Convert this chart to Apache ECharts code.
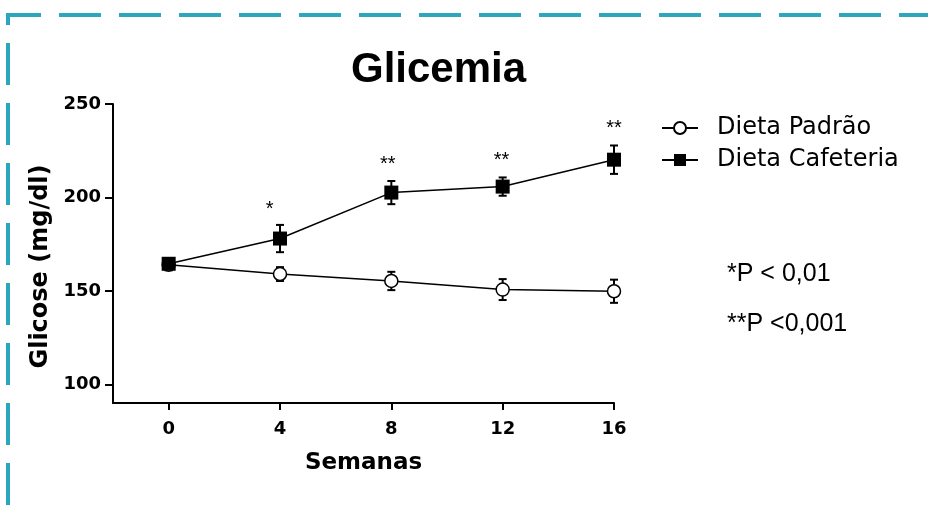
<!DOCTYPE html>
<html><head><meta charset="utf-8">
<script src="https://cdn.jsdelivr.net/npm/echarts@6/dist/echarts.min.js"></script>
<style>html,body{margin:0;padding:0;background:#fff}#c{width:928px;height:508px}</style>
</head><body><div id="c"></div>
<script>
const semanas = [0, 4, 8, 12, 16];
const padraoMedia = [164, 159, 155.3, 150.7, 149.8];
const padraoErro = [3, 3.7, 4.9, 5.6, 6.2];
const cafeMedia = [164.5, 178, 202.6, 205.8, 220.2];
const cafeErro = [3, 7.3, 6.2, 4.9, 7.6];
const estrelasX = [3.63, 7.87, 11.96, 16];
const estrelasY = [196, 220.4, 222.5, 239.5];
const estrelasTexto = ['*', '**', '**', '**'];
const yTicks = [100, 150, 200, 250];
const xTicks = [0, 4, 8, 12, 16];
const nomes = ['Dieta Padrão', 'Dieta Cafeteria'];
const notas = ['*P < 0,01', '**P <0,001'];
const titulo = 'Glicemia';
const nomeX = 'Semanas';
const nomeY = 'Glicose (mg/dl)';

const chart = echarts.init(document.getElementById('c'), null, {renderer: 'canvas'});

function errRender(params, api) {
  const x = api.value(0), lo = api.value(1), hi = api.value(2);
  const pLo = api.coord([x, lo]);
  const pHi = api.coord([x, hi]);
  const w = 4;
  const style = {stroke: '#000', lineWidth: 2};
  return {type: 'group', children: [
    {type: 'line', shape: {x1: pLo[0], y1: pLo[1], x2: pHi[0], y2: pHi[1]}, style: style},
    {type: 'line', shape: {x1: pLo[0] - w, y1: pLo[1], x2: pLo[0] + w, y2: pLo[1]}, style: style},
    {type: 'line', shape: {x1: pHi[0] - w, y1: pHi[1], x2: pHi[0] + w, y2: pHi[1]}, style: style}
  ]};
}

const errPadrao = semanas.map((s, i) => [s, padraoMedia[i] - padraoErro[i], padraoMedia[i] + padraoErro[i]]);
const errCafe = semanas.map((s, i) => [s, cafeMedia[i] - cafeErro[i], cafeMedia[i] + cafeErro[i]]);

const teal = '#2CA6BD';
const tickFont = {fontFamily: 'DejaVu Sans', fontWeight: 'bold', fontSize: 18, color: '#000'};

chart.setOption({
  backgroundColor: '#fff',
  animation: false,
  title: {
    text: titulo, left: 346, top: 44,
    textStyle: {fontFamily: 'Liberation Sans', fontWeight: 'bold', fontSize: 42, color: '#000'}
  },
  legend: {
    data: nomes, orient: 'vertical', left: 661, top: 116, padding: 0,
    itemWidth: 36, itemHeight: 15, itemGap: 8,
    textStyle: {fontFamily: 'DejaVu Sans', fontSize: 24, color: '#000', lineHeight: 24, padding: [0, 0, 0, 14]}
  },
  grid: {left: 113, right: 314, top: 104, bottom: 105, containLabel: false},
  xAxis: {
    type: 'value', min: -2, max: 16,
    name: nomeX, nameLocation: 'middle', nameGap: 49, nameMoveOverlap: false,
    nameTextStyle: {fontFamily: 'DejaVu Sans', fontWeight: 'bold', fontSize: 23, color: '#000'},
    axisLine: {show: true, onZero: false, lineStyle: {color: '#000', width: 2}},
    axisTick: {show: true, length: 7, lineStyle: {color: '#000', width: 2}, customValues: xTicks},
    axisLabel: Object.assign({margin: 17, customValues: xTicks}, tickFont),
    splitLine: {show: false}
  },
  yAxis: {
    type: 'value', min: 90, max: 250,
    name: nomeY, nameLocation: 'middle', nameGap: 60, nameMoveOverlap: false,
    nameTextStyle: {fontFamily: 'DejaVu Sans', fontWeight: 'bold', fontSize: 24, color: '#000', padding: [0, 26, 0, 0]},
    axisLine: {show: true, onZero: false, lineStyle: {color: '#000', width: 2}},
    axisTick: {show: true, length: 8, lineStyle: {color: '#000', width: 2}, customValues: yTicks},
    axisLabel: Object.assign({margin: 12, customValues: yTicks}, tickFont),
    splitLine: {show: false}
  },
  graphic: [
    {type: 'line', shape: {x1: 6, y1: 15, x2: 928, y2: 15}, style: {stroke: teal, lineWidth: 4, lineDash: [42, 18], lineDashOffset: 7}},
    {type: 'line', shape: {x1: 8, y1: 13, x2: 8, y2: 508}, style: {stroke: teal, lineWidth: 4, lineDash: [42, 18], lineDashOffset: 30}},
    {type: 'text', left: 727, top: 262, style: {text: notas[0], font: '25px "Liberation Sans"', fill: '#000'}},
    {type: 'text', left: 727, top: 312, style: {text: notas[1], font: '25px "Liberation Sans"', fill: '#000'}}
  ],
  series: [
    {type: 'custom', renderItem: errRender, data: errPadrao, z: 1, silent: true, encode: {x: 0, y: [1, 2]}},
    {type: 'custom', renderItem: errRender, data: errCafe, z: 1, silent: true, encode: {x: 0, y: [1, 2]}},
    {
      name: nomes[0], type: 'line', z: 3,
      data: semanas.map((s, i) => [s, padraoMedia[i]]),
      symbol: 'circle', symbolSize: 13,
      itemStyle: {color: '#fff', borderColor: '#000', borderWidth: 1.5},
      lineStyle: {color: '#000', width: 1.5}
    },
    {
      name: nomes[1], type: 'line', z: 4,
      data: semanas.map((s, i) => [s, cafeMedia[i]]),
      symbol: 'rect', symbolSize: 14,
      itemStyle: {color: '#000'},
      lineStyle: {color: '#000', width: 1.5}
    },
    {
      type: 'scatter', z: 5, silent: true, clip: false,
      data: estrelasX.map((x, i) => [x, estrelasY[i]]),
      symbolSize: 2, itemStyle: {color: 'rgba(0,0,0,0)'},
      label: {show: true, position: 'inside', offset: [0, 5], formatter: p => estrelasTexto[p.dataIndex],
        fontFamily: 'Liberation Sans', fontSize: 20, color: '#000', opacity: 1}
    }
  ]
});
</script>
</body></html>
